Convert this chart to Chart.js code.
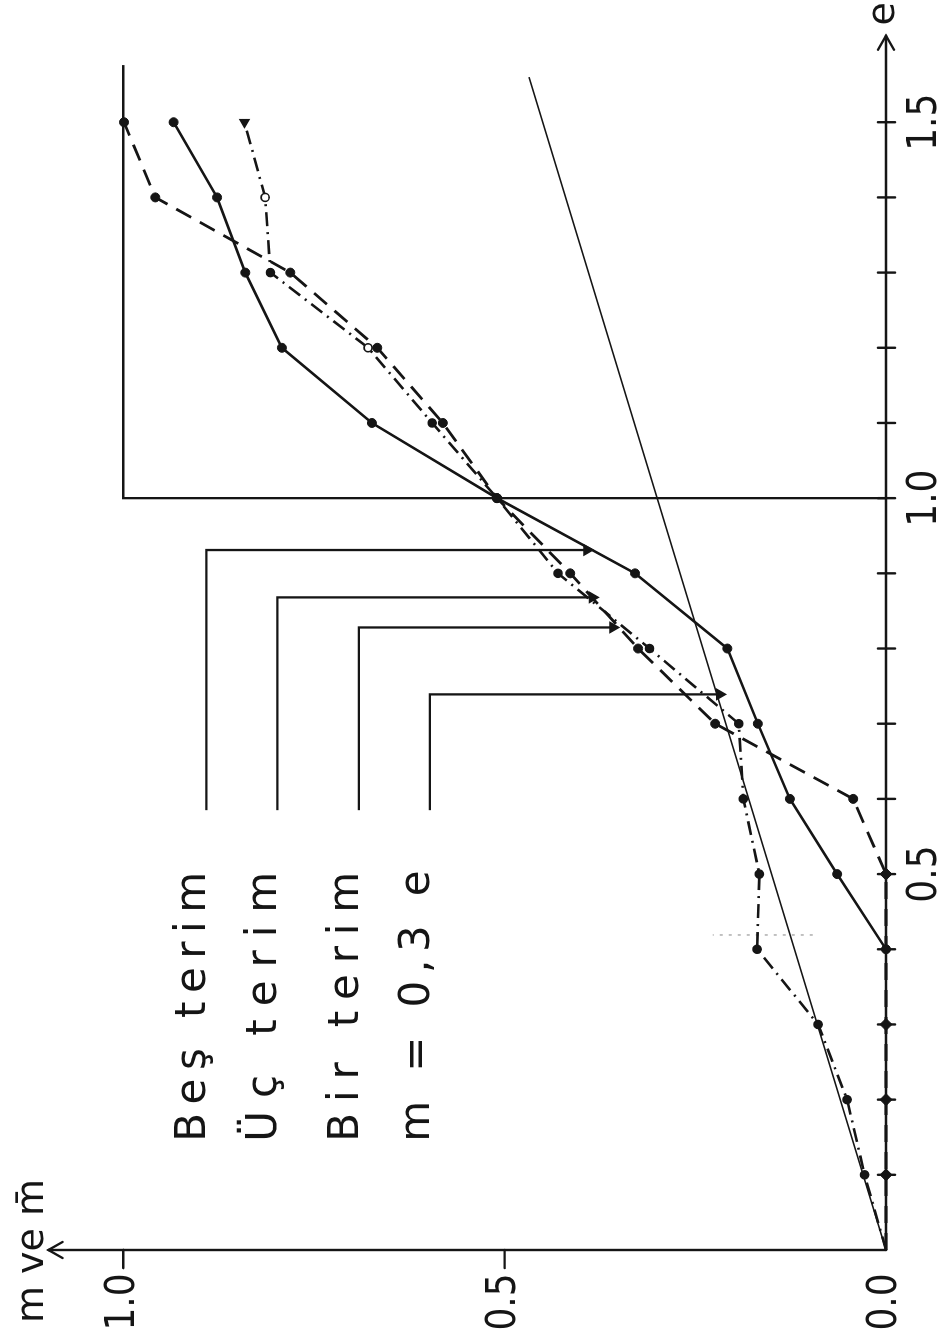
<!DOCTYPE html>
<html><head><meta charset="utf-8">
<script src="https://cdn.jsdelivr.net/npm/chart.js@4.4.1/dist/chart.umd.min.js"></script>
<style>
html,body{margin:0;padding:0;background:#fff;overflow:hidden;width:938px;height:1334px}
#wrap{position:absolute;left:0;top:0;width:1334px;height:938px;transform-origin:0 0;transform:translate(0px,1334px) rotate(-90deg);background:#fff}
canvas{display:block}
</style></head><body>
<div id="wrap"><canvas id="c" width="1334" height="938"></canvas></div>
<script>
// ---- tick labels ----
const eTickValues = [0.5, 1.0, 1.5];
const eTickLabels = ['0.5', '1.0', '1.5'];
const eMinorTicks = [0.1,0.2,0.3,0.4,0.5,0.6,0.7,0.8,0.9,1.0,1.1,1.2,1.3,1.4,1.5];
const mTickValues = [0.0, 0.5, 1.0];
const mTickLabels = ['0.0', '0.5', '1.0'];
const eAxisTitle = 'e';
const mAxisTitle = 'm ve m\u0304';

// ---- series: Beş terim (solid) ----
const besE = [0.4, 0.5, 0.6, 0.7, 0.8, 0.9, 1.0, 1.1, 1.2, 1.3, 1.4, 1.5];
const besM = [0.0, 0.064, 0.126, 0.168, 0.208, 0.329, 0.51, 0.674, 0.792, 0.84, 0.877, 0.934];

// ---- series: dashed ----
const dashE = [0.0, 0.1, 0.2, 0.3, 0.4, 0.5, 0.6, 0.7, 0.8, 0.9, 1.0, 1.1, 1.2, 1.3, 1.4, 1.5];
const dashM = [0.0, 0.0, 0.0, 0.0, 0.0, 0.0, 0.043, 0.224, 0.325, 0.414, 0.51, 0.581, 0.667, 0.781, 0.958, 0.999];

// ---- series: dash-dot ----
const dotE = [0.0, 0.1, 0.2, 0.3, 0.4, 0.5, 0.6, 0.7, 0.8, 0.9, 1.0, 1.1, 1.2, 1.3, 1.4, 1.5];
const dotM = [0.0, 0.028, 0.051, 0.089, 0.169, 0.166, 0.187, 0.193, 0.31, 0.43, 0.51, 0.595, 0.679, 0.807, 0.814, 0.841];

// ---- series: m = 0,3 e (straight line) ----
const linE = [0.0, 1.56];
const linM = [0.0, 0.468];

// ---- reference frame at e = 1 ----
const frameE = [1.0, 1.0, 1.576];
const frameM = [0.0, 1.0, 1.0];

// ---- faint dotted stroke ----
const faintE = [0.419, 0.419];
const faintM = [0.096, 0.227];

// ---- legend labels and leader lines ----
const legendLabels = ['Be\u015f terim', '\u00dc\u00e7 terim', 'Bir terim', 'm = 0,3 e'];
const legendStartE = [0.144, 0.144, 0.144, 0.144];
const legendEndE = [0.503, 0.503, 0.503, 0.505];
const leaderBendE = [0.931, 0.868, 0.828, 0.739];
const leaderM = [0.891, 0.798, 0.691, 0.598];
const leaderTipM = [0.392, 0.385, 0.358, 0.218];
const leaderStartE = 0.585;

const eAxisEnd = 1.615;
const mAxisEnd = 1.098;

const INK = '#151515';
const pts = (xs, ys) => xs.map((x, i) => ({x: x, y: ys[i]}));

const datasets = [];
datasets.push({
  label: 'Be\u015f terim', data: pts(besE, besM), showLine: true,
  borderColor: INK, borderWidth: 2.6, pointRadius: 4.5,
  pointBackgroundColor: INK, pointBorderColor: INK, pointBorderWidth: 1, clip: false
});
datasets.push({
  label: 'dashed', data: pts(dashE, dashM), showLine: true,
  borderColor: INK, borderWidth: 2.8, borderDash: [17, 10], pointRadius: dashE.map((e, i) => (i === 0 || i === 4) ? 0 : (dashM[i] === 0 ? 6 : 4.5)),
  pointStyle: dashM.map(m => m === 0 ? 'rectRot' : 'circle'),
  pointBackgroundColor: INK, pointBorderColor: INK, pointBorderWidth: 1, clip: false
});
datasets.push({
  label: 'dash-dot', data: pts(dotE, dotM), showLine: true,
  borderColor: INK, borderWidth: 2.6, borderDash: [14, 6, 2, 6],
  pointRadius: dotE.map((e, i) => i === 0 ? 0 : (i === 15 ? 5 : 4)),
  pointStyle: dotE.map((e, i) => i === 15 ? 'triangle' : 'circle'),
  rotation: dotE.map((e, i) => i === 15 ? 270 : 0),
  pointBackgroundColor: dotE.map((e, i) => (i === 12 || i === 14) ? '#fff' : INK),
  pointBorderColor: INK, pointBorderWidth: 1.6, clip: false
});
datasets.push({
  label: 'm = 0,3 e', data: pts(linE, linM), showLine: true,
  borderColor: INK, borderWidth: 1.7, pointRadius: 0, clip: false
});
datasets.push({
  label: 'frame', data: pts(frameE, frameM), showLine: true,
  borderColor: INK, borderWidth: 2.3, pointRadius: 0, clip: false
});
datasets.push({
  label: 'faint', data: pts(faintE, faintM), showLine: true,
  borderColor: '#999', borderWidth: 1.2, borderDash: [3, 6], pointRadius: 0, clip: false
});
for (let i = 0; i < legendLabels.length; i++) {
  datasets.push({
    label: 'leader ' + i,
    data: pts([leaderStartE, leaderBendE[i], leaderBendE[i]], [leaderM[i], leaderM[i], leaderTipM[i]]),
    showLine: true, borderColor: INK, borderWidth: 2.3,
    pointRadius: [0, 0, 5], pointStyle: 'triangle', rotation: 180,
    pointBackgroundColor: INK, pointBorderColor: INK, clip: false
  });
}

const FONT_NUM = '"Liberation Sans Narrow", "DejaVu Sans Condensed", sans-serif';
const FONT_TXT = '"DejaVu Sans", "Liberation Sans", sans-serif';

function drawSpaced(ctx, text, x0, x1, y) {
  const chars = Array.from(text);
  let natural = 0;
  chars.forEach(c => natural += ctx.measureText(c).width);
  const gap = chars.length > 1 ? (x1 - x0 - natural) / (chars.length - 1) : 0;
  let x = x0;
  chars.forEach(c => { ctx.fillText(c, x, y); x += ctx.measureText(c).width + gap; });
}

const axesPlugin = {
  id: 'axesPlugin',
  beforeDatasetsDraw(chart) {
    const ctx = chart.ctx, xs = chart.scales.x, ys = chart.scales.y;
    const X = v => xs.getPixelForValue(v), Y = v => ys.getPixelForValue(v);
    ctx.save();
    ctx.strokeStyle = INK; ctx.fillStyle = INK; ctx.lineWidth = 2.4; ctx.lineCap = 'round';
    // e axis
    ctx.beginPath(); ctx.moveTo(X(0), Y(0)); ctx.lineTo(X(eAxisEnd), Y(0)); ctx.stroke();
    ctx.beginPath(); ctx.moveTo(X(eAxisEnd) - 14, Y(0) - 8); ctx.lineTo(X(eAxisEnd), Y(0)); ctx.lineTo(X(eAxisEnd) - 14, Y(0) + 8); ctx.stroke();
    eMinorTicks.forEach(e => { ctx.beginPath(); ctx.moveTo(X(e), Y(0) - 8); ctx.lineTo(X(e), Y(0) + 9); ctx.stroke(); });
    // m axis
    ctx.beginPath(); ctx.moveTo(X(0), Y(0)); ctx.lineTo(X(0), Y(mAxisEnd)); ctx.stroke();
    ctx.beginPath(); ctx.moveTo(X(0) - 8, Y(mAxisEnd) + 14); ctx.lineTo(X(0), Y(mAxisEnd)); ctx.lineTo(X(0) + 8, Y(mAxisEnd) + 14); ctx.stroke();
    mTickValues.forEach(m => { if (m > 0) { ctx.beginPath(); ctx.moveTo(X(0), Y(m)); ctx.lineTo(X(0) - 18, Y(m)); ctx.stroke(); } });
    // tick labels
    ctx.font = '40px ' + FONT_NUM; ctx.textAlign = 'center'; ctx.textBaseline = 'middle';
    eTickValues.forEach((e, i) => ctx.fillText(eTickLabels[i], X(e), Y(0) + 40));
    mTickValues.forEach((m, i) => ctx.fillText(mTickLabels[i], X(0) - 52, Y(m)));
    // axis titles
    ctx.font = '38px ' + FONT_TXT; ctx.textAlign = 'center'; ctx.textBaseline = 'middle';
    ctx.fillText(eAxisTitle, X(eAxisEnd) + 22, Y(0) - 2);
    ctx.textAlign = 'left'; ctx.textBaseline = 'alphabetic';
    ctx.fillText(mAxisTitle, X(0) - 73, Y(mAxisEnd) - 6);
    // legend text
    ctx.font = '42px ' + FONT_TXT; ctx.textAlign = 'left'; ctx.textBaseline = 'alphabetic';
    legendLabels.forEach((t, i) => drawSpaced(ctx, t, X(legendStartE[i]), X(legendEndE[i]), Y(leaderM[i]) - 1));
    ctx.restore();
  }
};

new Chart(document.getElementById('c'), {
  type: 'scatter',
  data: { datasets: datasets },
  options: {
    responsive: false, animation: false, devicePixelRatio: 1,
    layout: { padding: { left: 84, right: 32, top: 47, bottom: 52 } },
    scales: {
      x: { type: 'linear', min: 0, max: 1.62, display: false },
      y: { type: 'linear', min: 0, max: 1.1, display: false }
    },
    plugins: { legend: { display: false }, tooltip: { enabled: false } }
  },
  plugins: [axesPlugin]
});
</script>
</body></html>
